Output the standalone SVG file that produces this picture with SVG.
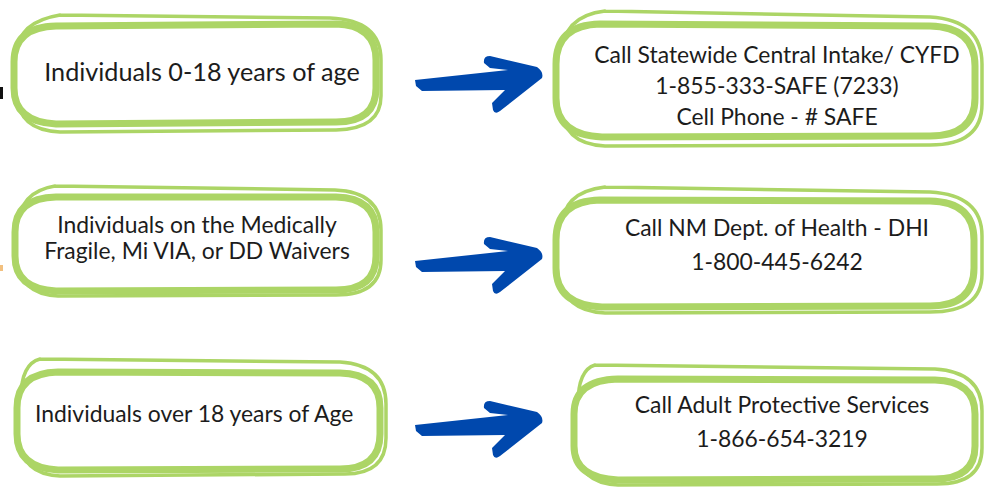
<svg xmlns="http://www.w3.org/2000/svg" width="992" height="487" viewBox="0 0 992 487">
<defs>
<style>
.bg{fill:#ffffff}
.m{fill:#ffffff;stroke:#acd566;stroke-width:7;stroke-linejoin:round}
.s{fill:none;stroke:#acd566;stroke-width:3.5;stroke-linecap:round}
.t{font-family:Lato,"Open Sans","Liberation Sans",sans-serif;font-size:22.9px;fill:#1c1c1c}
.c{text-anchor:middle}
.arrow{fill:#0048ad}
</style>
<path id="arr" d="M35,40 L128,30 L110,28 L104,23 Q103,16 110,16 L157,27 Q164,32 162,38 L120,71 Q115,75 113,70 L112,63 L125,50 L42,51 L36,46 Z"/>
</defs>
<rect class="bg" x="0" y="0" width="992" height="487"/>
<rect x="0" y="87" width="3" height="12" fill="#111"/>
<rect x="0" y="265" width="3" height="6" fill="#f2c07f"/>

<g id="node-age-0-18">
<path class="s" d="M60,15 L330,18 Q381,20 381,60 L381,96 Q381,129 336,130 L60,132 Q18,130 18,96 L18,52 Q18,22 60,15"/>
<path class="m" d="M56,26 L336,24 Q376,25 376,60 L376,88 Q376,122 336,122 L56,124 Q14,122 14,88 L14,62 Q14,27 56,26 Z"/>
<text class="t" x="202" y="81" style="font-size:25.2px" text-anchor="middle">Individuals 0-18 years of age</text>
</g>

<g id="node-cyfd">
<path class="s" d="M605,11 L930,17 Q982,20 982,64 L982,104 Q982,145 930,145 L605,146 Q562,144 562,106 L562,56 Q562,16 605,11"/>
<path class="m" d="M600,24 L930,26 Q975,27 975,66 L975,98 Q975,136 930,136 L602,137 Q556,135 556,98 L556,64 Q556,25 600,24 Z"/>
<text class="t c" x="777" y="63">Call Statewide Central Intake/ CYFD</text>
<text class="t c" x="777" y="94">1-855-333-SAFE (7233)</text>
<text class="t c" x="777" y="125">Cell Phone - # SAFE</text>
</g>

<g id="node-waivers">
<path class="s" d="M55,186 L335,190 Q381,192 381,230 L381,260 Q381,295 336,295 L58,296 Q19,294 19,260 L19,226 Q19,192 55,186"/>
<path class="m" d="M56,197 L336,197 Q376,198 376,232 L376,256 Q376,290 336,290 L56,291 Q15,289 15,256 L15,232 Q15,198 56,197 Z"/>
<text class="t c" x="197" y="233">Individuals on the Medically</text>
<text class="t c" x="197" y="259">Fragile, Mi VIA, or DD Waivers</text>
</g>

<g id="node-dhi">
<path class="s" d="M605,187 L930,192 Q982,195 982,236 L982,274 Q982,312 930,312 L605,313 Q562,311 562,274 L562,228 Q562,192 605,187"/>
<path class="m" d="M600,200 L930,201 Q974,202 974,240 L974,268 Q974,306 930,306 L602,307 Q556,305 556,268 L556,240 Q556,201 600,200 Z"/>
<text class="t c" x="777" y="236">Call NM Dept. of Health - DHI</text>
<text class="t c" x="777" y="270">1-800-445-6242</text>
</g>

<g id="node-over-18">
<path class="s" d="M40,359 L340,362 Q386,365 386,404 L386,438 Q386,474 345,474 L60,476 Q21,474 21,440 L21,398 Q21,364 40,359"/>
<path class="m" d="M58,372 L340,373 Q380,374 380,408 L380,434 Q380,469 340,469 L58,470 Q17,468 17,434 L17,408 Q17,373 58,372 Z"/>
<text class="t" x="35" y="422">Individuals over 18 years of Age</text>
</g>

<g id="node-aps">
<path class="s" d="M595,365 L935,369 Q982,372 982,411 L982,448 Q982,484 937,484 L618,485 Q578,483 578,448 L578,404 Q578,370 595,365"/>
<path class="m" d="M618,379 L935,380 Q975,381 975,414 L975,446 Q975,479 935,479 L618,480 Q574,478 574,446 L574,414 Q574,380 618,379 Z"/>
<text class="t c" x="782" y="413">Call Adult Protective Services</text>
<text class="t c" x="782" y="447">1-866-654-3219</text>
</g>

<g id="connectors">
<use href="#arr" class="arrow" transform="translate(380,40)"/>
<use href="#arr" class="arrow" transform="translate(380,221)"/>
<use href="#arr" class="arrow" transform="translate(380,385)"/>
</g>
</svg>
